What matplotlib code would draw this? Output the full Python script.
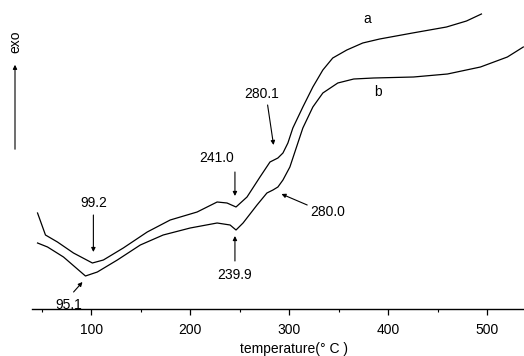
import matplotlib.pyplot as plt
from matplotlib.patches import FancyArrowPatch

plt.rcParams["font.family"] = ["Liberation Sans", "DejaVu Sans"]

# curve a (upper): temperature (deg C) and signal (arbitrary units)
temp_a = [45.6, 53.6, 65.7, 81.9, 101.0, 112.1, 132.2, 156.4, 179.6, 206.8,
          227.0, 237.0, 246.1, 257.2, 270.3, 280.4, 288.4, 293.5, 298.5,
          303.5, 313.6, 323.7, 333.8, 343.8, 358.0, 374.1, 391.2, 424.4,
          458.7, 478.9, 494.0]
heat_a = [96, 74, 67, 56, 46, 49, 61, 77, 89, 97,
          107, 106, 102, 112, 132, 147, 151, 156, 166,
          181, 202, 222, 239, 251, 259, 266, 270, 276,
          282, 288, 295]

# curve b (lower)
temp_b = [45.6, 55.7, 71.8, 94.0, 106.0, 126.2, 149.4, 172.5, 199.8, 227.0,
          240.1, 246.1, 253.2, 267.3, 277.3, 283.4, 288.4, 293.5, 300.5,
          313.6, 323.7, 333.8, 348.9, 365.0, 385.1, 425.4, 459.7, 493.0,
          520.2, 536.3]
heat_b = [66, 62, 52, 33, 37, 49, 64, 74, 81, 86,
          84, 79, 86, 104, 116, 119, 122, 129, 142,
          181, 202, 216, 226, 230, 231, 232, 235, 242,
          252, 262]

# peak annotations: label, text position, arrow tail, arrow head
peak_labels = ["99.2", "95.1", "241.0", "239.9", "280.1", "280.0"]
peak_text = [(102, 106), (77, 4), (227, 151), (245, 34), (272, 215), (339, 97)]
peak_tail = [(102, 94), (82, 17), (245, 137), (245, 48), (278, 204), (318, 104)]
peak_head = [(102, 57), (91, 27), (245, 113), (245, 73), (284, 164), (292, 115)]

fig = plt.figure(figsize=(5.24, 3.56), dpi=100)
ax = fig.add_axes([32 / 524, 47 / 356, 492 / 524, 309 / 356])

ax.plot(temp_a, heat_a, color="black", lw=0.9)
ax.plot(temp_b, heat_b, color="black", lw=0.9)

ax.text(379, 290, "a", fontsize=10, ha="center", va="center")
ax.text(389, 217, "b", fontsize=10, ha="center", va="center")

for lab, txt, tail, head in zip(peak_labels, peak_text, peak_tail, peak_head):
    ax.text(txt[0], txt[1], lab, fontsize=10, ha="center", va="center")
    ax.annotate("", xy=head, xytext=tail,
                arrowprops=dict(arrowstyle="-|>", lw=0.8, color="black",
                                mutation_scale=6, shrinkA=0, shrinkB=0))

ax.set_xlim(40, 537)
ax.set_ylim(0, 309)
for side in ["left", "top", "right"]:
    ax.spines[side].set_visible(False)
ax.spines["bottom"].set_linewidth(1.0)
ax.set_yticks([])
ax.set_xticks([100, 200, 300, 400, 500])
ax.set_xticks([50, 150, 250, 350, 450], minor=True)
ax.tick_params(axis="x", which="major", direction="out", length=4, width=0.9,
               labelsize=10, pad=6)
ax.tick_params(axis="x", which="minor", direction="out", length=2.5, width=0.8)

fig.text(294 / 524, 1 - 349 / 356, "temperature(° C )", fontsize=10,
         ha="center", va="center")

# exo arrow on the left
fig.text(15 / 524, 1 - 42 / 356, "exo", fontsize=10, rotation=90,
         ha="center", va="center")
fig.patches.append(FancyArrowPatch(
    (15 / 524, 1 - 152 / 356), (15 / 524, 1 - 62 / 356),
    transform=fig.transFigure, arrowstyle="-|>", mutation_scale=6,
    lw=0.8, color="black"))

fig.savefig("out.png", dpi=100)
